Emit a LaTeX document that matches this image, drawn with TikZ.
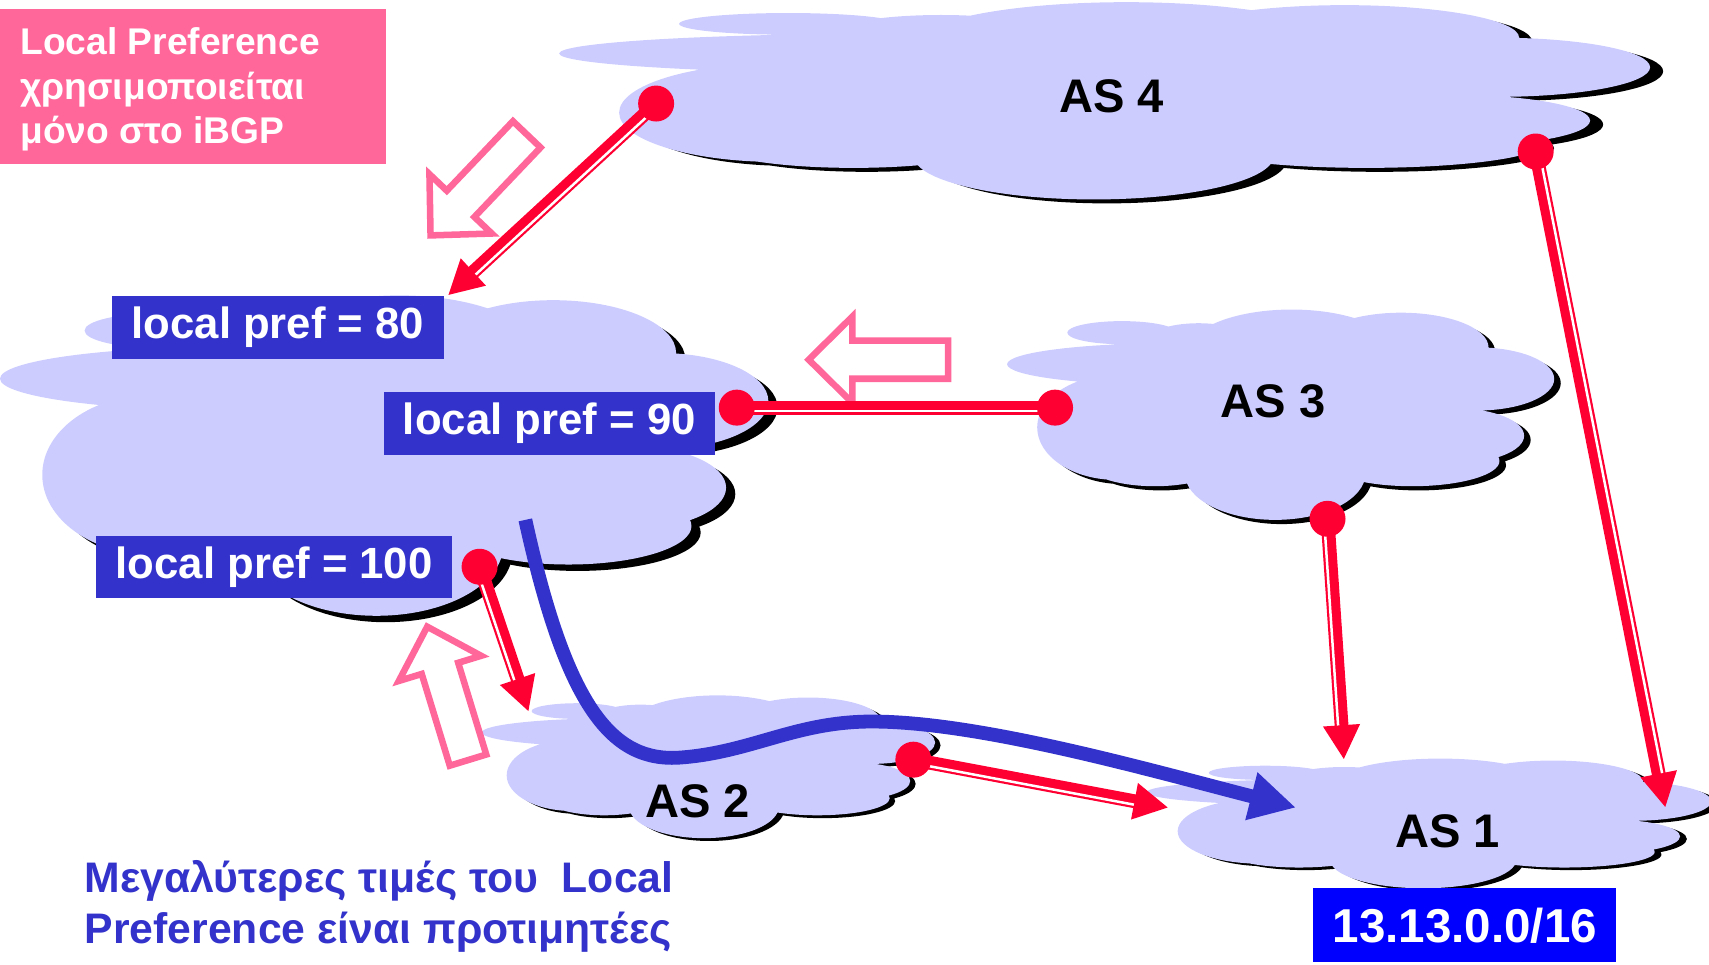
\documentclass[tikz,border=0pt]{standalone}
\usepackage{fontspec}
\setmainfont{Liberation Sans}
\usetikzlibrary{arrows.meta,calc}

\definecolor{cloudfill}{HTML}{CCCCFF}
\definecolor{linkred}{HTML}{FF0033}
\definecolor{boxblue}{HTML}{3333CC}
\definecolor{netblue}{HTML}{0000FF}
\definecolor{notepink}{HTML}{FF6699}

\pgfdeclarelayer{clouds}
\pgfdeclarelayer{links}
\pgfsetlayers{clouds,links,main}

% lobes of one cloud in a unit box (y grows downwards)
\newcommand\cloudflat{%
  (0.21,0.11) ellipse[x radius=0.10,y radius=0.055]
  (0.35,0.16) ellipse[x radius=0.10,y radius=0.095]
  (0.30,0.26) ellipse[x radius=0.30,y radius=0.10]}
\newcommand\cloudbody{%
  (0.20,0.56) ellipse[x radius=0.145,y radius=0.25]
  (0.27,0.72) ellipse[x radius=0.13,y radius=0.12]
  (0.49,0.78) ellipse[x radius=0.165,y radius=0.22]
  (0.74,0.72) ellipse[x radius=0.16,y radius=0.12]
  (0.82,0.60) ellipse[x radius=0.125,y radius=0.13]
  (0.86,0.33) ellipse[x radius=0.14,y radius=0.15]
  (0.72,0.18) ellipse[x radius=0.16,y radius=0.165]
  (0.52,0.20) ellipse[x radius=0.19,y radius=0.20]
  (0.50,0.50) ellipse[x radius=0.34,y radius=0.30]}

% cloud with its black shadow: left, top, width, height
\newcommand\cloud[4]{%
  \fill[black,shift={(#1+0.012*#3,#2+0.02*#4)},xscale=#3,yscale=#4] \cloudbody;
  \fill[cloudfill,shift={(#1,#2)},xscale=#3,yscale=#4] \cloudflat \cloudbody;}

% red link with a white stripe: from, to, side of the stripe
\newcommand\redarrow[3]{%
  \draw[redline,-{Triangle[length=9pt,width=9pt]}] (#1.center) -- (#2);
  \draw[stripe] ($(#1.center)!0.9pt!#3:(#2)$) -- ($(#2)!9pt!(#1.center)!0.9pt!#3:(#2)$);}

% hollow block arrow: tail x, tail y, angle
\newcommand\hollowarrow[3]{%
  \draw[hollow,shift={(#1,#2)},rotate=#3]
    (0,-17.5) -- (88,-17.5) -- (88,-39.5) -- (128,0)
    -- (88,39.5) -- (88,17.5) -- (0,17.5) -- cycle;}

\begin{document}
\begin{tikzpicture}[
  x=0.01cm, y=-0.01cm,
  line join=miter,
  aslabel/.style={font=\bfseries\fontsize{12.3}{14}\selectfont},
  prefbox/.style={fill=boxblue, text=white, inner sep=0pt,
    minimum height=0.57cm, font=\bfseries\fontsize{11.4}{13}\selectfont},
  netbox/.style={fill=netblue, text=white, inner sep=0pt,
    minimum width=2.78cm, minimum height=0.68cm,
    font=\bfseries\fontsize{12.4}{14}\selectfont},
  notebox/.style={fill=notepink, inner sep=0pt,
    minimum width=3.54cm, minimum height=1.42cm},
  notetext/.style={text=white, inner sep=0pt, align=left,
    font=\bfseries\fontsize{9.7}{11.6}\selectfont},
  remark/.style={text=boxblue, inner sep=0pt, align=left,
    font=\bfseries\fontsize{11.15}{13.3}\selectfont},
  reddot/.style={circle, fill=linkred, inner sep=0pt, minimum size=0.33cm},
  redline/.style={draw=linkred, line width=3.6pt},
  stripe/.style={draw=white, line width=0.65pt},
  hollow/.style={draw=notepink, fill=white, line width=1.7pt},
  bluepath/.style={draw=boxblue, line width=3.6pt}
]
  \useasboundingbox (0,0) rectangle (1568,885);

  % clouds
  \begin{pgfonlayer}{clouds}
    \cloud{513}{2}{1001}{181}
    \cloud{0}{271}{705}{294}
    \cloud{924}{284}{502}{193}
    \cloud{442}{638}{416}{131}
    \cloud{1052}{696}{518}{119}
  \end{pgfonlayer}

  % AS names
  \node[aslabel] (as4) at (1020,88) {AS 4};
  \node[aslabel] (as3) at (1168,368) {AS 3};
  \node[aslabel] (as2) at (640,735) {AS 2};
  \node[aslabel] (as1) at (1328,763) {AS 1};

  % local pref boxes
  \node[prefbox, minimum width=3.04cm] (pref80) at (255,300.5) {local pref = 80};
  \node[prefbox, minimum width=3.04cm] (pref90) at (504,388.5) {local pref = 90};
  \node[prefbox, minimum width=3.27cm] (pref100) at (251.5,520.5) {local pref = 100};
  \node[netbox] (net) at (1344,849) {13.13.0.0/16};

  % notes
  \node[notebox] (note) at (177,79) {};
  \node[notetext, anchor=west] (notetxt) at (18,82)
    {Local Preference\\χρησιμοποιείται\\μόνο στο iBGP};
  \node[remark, anchor=west] (rule) at (77,832)
    {Μεγαλύτερες τιμές του~~Local\\Preference είναι προτιμητέες};

  % border routers
  \node[reddot] (D4a) at (602,95) {};
  \node[reddot] (D4b) at (1409,139) {};
  \node[reddot] (D90) at (676,374) {};
  \node[reddot] (D3a) at (968,374) {};
  \node[reddot] (D3b) at (1218,476) {};
  \node[reddot] (D100) at (440,520) {};
  \node[reddot] (D2) at (838,697) {};

  % arrow ends
  \coordinate (T4a) at (411,271);
  \coordinate (T100) at (485,653);
  \coordinate (T2) at (1072,741);
  \coordinate (T3) at (1233,697);
  \coordinate (T4b) at (1528,741);
  \coordinate (bstart) at (482,477);
  \coordinate (bend) at (1189,741);

  \begin{pgfonlayer}{links}
    % hollow arrows
    \hollowarrow{483.3}{123.3}{226.4}
    \hollowarrow{870}{330}{180}
    \hollowarrow{429.4}{697.4}{107}

    % links between the ASes
    \redarrow{D4a}{T4a}{90}
    \redarrow{D100}{T100}{-90}
    \redarrow{D2}{T2}{-90}
    \redarrow{D3b}{T3}{-90}
    \redarrow{D4b}{T4b}{90}
    \draw[redline] (D3a.center) -- (D90.center);
    \draw[stripe] ($(D3a.center)!0.9pt!90:(D90.center)$) -- ($(D90.center)!0.9pt!-90:(D3a.center)$);
  \end{pgfonlayer}

  % chosen path
  \draw[bluepath, -{Triangle[length=12pt,width=12pt]}]
    (bstart) .. controls (520,650) and (562,700) .. (625,695)
    .. controls (690,690) and (730,662) .. (800,662)
    .. controls (900,662) and (1060,708) .. (bend);
\end{tikzpicture}
\end{document}
